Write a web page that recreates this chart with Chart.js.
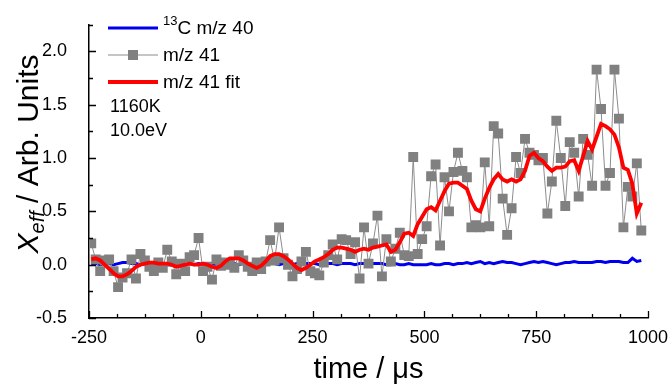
<!DOCTYPE html>
<html>
<head>
<meta charset="utf-8">
<script src="https://cdn.jsdelivr.net/npm/chart.js@4.4.1/dist/chart.umd.min.js"></script>
<style>
  html, body { margin: 0; padding: 0; background: #fff; }
  #wrap { width: 672px; height: 385px; }
</style>
</head>
<body>
<div id="wrap"><canvas id="chart" width="672" height="385"></canvas></div>
<script>
// ── data ──
var times = [
  -245, -235, -225, -215, -205, -195, -185, -175, -165, -155, -145, -135, -125, -115, -105, -95, -85, -75, -65, -55, -45, -35, -25, -15, -5,
  5, 15, 25, 35, 45, 55, 65, 75, 85, 95, 105, 115, 125, 135, 145, 155, 165, 175, 185, 195, 205, 215, 225, 235, 245,
  255, 265, 275, 285, 295, 305, 315, 325, 335, 345, 355, 365, 375, 385, 395, 405, 415, 425, 435, 445, 455, 465, 475, 485, 495,
  505, 515, 525, 535, 545, 555, 565, 575, 585, 595, 605, 615, 625, 635, 645, 655, 665, 675, 685, 695, 705, 715, 725, 735, 745,
  755, 765, 775, 785, 795, 805, 815, 825, 835, 845, 855, 865, 875, 885, 895, 905, 915, 925, 935, 945, 955, 965, 975, 985
];
var m41 = [
  0.20, 0.05, -0.06, 0.04, 0.05, -0.06, -0.21, -0.12, -0.08, 0.05, -0.13, 0.10, 0.04, -0.02, -0.06, 0.02, -0.03, 0.14, 0.03, -0.09, 0.01, -0.06, 0.07, 0.09, 0.25,
  -0.06, -0.02, -0.14, 0.05, -0.01, 0.02, 0.00, -0.03, 0.09, 0.04, -0.02, -0.06, 0.02, -0.04, 0.03, 0.23, 0.04, 0.35, 0.06, 0.00, -0.11, -0.04, 0.03, 0.12, -0.06,
  -0.08, -0.10, 0.02, 0.09, 0.19, 0.05, 0.24, 0.23, 0.10, 0.21, -0.13, 0.35, 0.01, 0.20, 0.46, -0.11, 0.24, 0.03, 0.15, 0.30, 0.09, 0.08, 1.01, 0.10, 0.24,
  0.36, 0.83, 0.94, 0.18, 0.82, 0.50, 0.87, 1.05, 0.88, 0.82, 0.35, 0.37, 0.35, 0.96, 0.36, 1.30, 1.23, 0.62, 0.28, 0.53, 1.01, 0.86, 1.18, 1.05, 1.03,
  0.98, 1.00, 0.48, 0.78, 1.35, 1.00, 0.55, 1.15, 1.05, 0.64, 1.18, 1.03, 0.74, 1.83, 1.46, 0.74, 0.86, 1.83, 1.37, 0.35, 0.73, 0.64, 0.95, 0.32
];
var m41fit = [
  0.05, 0.06, 0.04, 0.00, -0.04, -0.08, -0.11, -0.11, -0.09, -0.06, -0.02, 0.00, 0.01, 0.02, 0.02, 0.01, 0.01, 0.01, 0.00, -0.02, -0.01, 0.00, 0.01, 0.00, 0.00,
  0.01, 0.00, -0.02, -0.03, -0.01, 0.03, 0.06, 0.06, 0.06, 0.04, 0.01, -0.01, -0.03, -0.01, 0.03, 0.08, 0.10, 0.10, 0.08, 0.05, 0.01, -0.03, -0.05, -0.03, 0.00,
  0.03, 0.05, 0.07, 0.10, 0.14, 0.16, 0.16, 0.15, 0.14, 0.12, 0.14, 0.15, 0.14, 0.16, 0.17, 0.18, 0.19, 0.12, 0.14, 0.21, 0.29, 0.30, 0.27, 0.38, 0.45,
  0.52, 0.54, 0.51, 0.60, 0.69, 0.76, 0.77, 0.77, 0.74, 0.71, 0.60, 0.52, 0.50, 0.62, 0.72, 0.80, 0.85, 0.80, 0.78, 0.80, 0.78, 0.80, 0.88, 1.02, 1.05,
  1.00, 0.97, 0.92, 0.88, 0.91, 0.91, 0.92, 0.97, 0.98, 0.88, 1.02, 1.16, 1.08, 1.20, 1.32, 1.30, 1.27, 1.22, 1.10, 0.91, 0.89, 0.76, 0.48, 0.58
];
var c13m40 = [
  0.00, 0.01, 0.00, 0.01, 0.01, 0.00, 0.01, 0.02, 0.02, 0.01, 0.01, 0.00, 0.01, 0.01, 0.00, 0.01, 0.01, 0.00, 0.00, 0.01, 0.01, 0.00, 0.01, 0.00, 0.01,
  0.00, 0.01, 0.01, 0.00, 0.01, 0.00, 0.01, 0.01, 0.00, 0.01, 0.00, 0.00, 0.01, 0.01, 0.00, 0.01, 0.01, 0.00, 0.01, 0.01, 0.00, 0.01, 0.00, 0.01, 0.01,
  0.01, 0.00, 0.01, 0.01, 0.01, 0.00, 0.01, 0.01, 0.01, 0.00, 0.01, 0.01, 0.00, 0.01, 0.01, 0.01, 0.00, 0.00, 0.01, 0.00, 0.00, 0.01, 0.00, 0.00, 0.00,
  0.00, 0.01, 0.00, 0.00, 0.01, 0.01, 0.00, 0.01, 0.01, 0.02, 0.01, 0.02, 0.03, 0.01, 0.02, 0.01, 0.02, 0.03, 0.02, 0.02, 0.01, 0.00, 0.01, 0.02, 0.03,
  0.02, 0.03, 0.02, 0.01, 0.00, 0.01, 0.02, 0.02, 0.03, 0.02, 0.02, 0.02, 0.02, 0.03, 0.03, 0.02, 0.03, 0.03, 0.03, 0.02, 0.02, 0.06, 0.03, 0.04
];
var xTickLabels = [-250, 0, 250, 500, 750, 1000];
var yTickLabels = [-0.5, 0, 0.5, 1, 1.5, 2];
var notes = ['1160K', '10.0eV'];

var FONT = "'Liberation Sans', Arial, sans-serif";

function pts(ys) {
  return times.map(function (t, i) { return { x: t, y: ys[i] }; });
}
function isLabel(list, v) {
  for (var i = 0; i < list.length; i++) if (Math.abs(list[i] - v) < 1e-6) return true;
  return false;
}

// inward tick marks, legend, notes, axis titles
var decor = {
  id: 'decor',
  afterDraw: function (chart) {
    var ctx = chart.ctx, a = chart.chartArea;
    var xs = chart.scales.x, ys = chart.scales.y;
    ctx.save();
    ctx.strokeStyle = '#000';
    ctx.lineWidth = 1.3;
    ctx.beginPath();
    xs.ticks.forEach(function (t) {
      var px = Math.round(xs.getPixelForValue(t.value)) + 0.5;
      var len = isLabel(xTickLabels, t.value) ? 7 : 4;
      ctx.moveTo(px, a.bottom); ctx.lineTo(px, a.bottom - len);
    });
    ys.ticks.forEach(function (t) {
      var py = Math.round(ys.getPixelForValue(t.value)) + 0.5;
      var len = isLabel(yTickLabels, t.value) ? 7 : 4;
      ctx.moveTo(a.left, py); ctx.lineTo(a.left + len, py);
    });
    ctx.stroke();

    // legend
    var lx = a.left + 19, tx = a.left + 74;
    ctx.textBaseline = 'middle';
    ctx.fillStyle = '#000';
    ctx.strokeStyle = '#0000ee'; ctx.lineWidth = 3;
    ctx.beginPath(); ctx.moveTo(lx, 28); ctx.lineTo(lx + 50, 28); ctx.stroke();
    ctx.font = '13px ' + FONT;
    ctx.fillText('13', tx, 21);
    var sw = ctx.measureText('13').width;
    ctx.font = '19px ' + FONT;
    ctx.fillText('C m/z 40', tx + sw, 29);

    ctx.strokeStyle = '#8c8c8c'; ctx.lineWidth = 1;
    ctx.beginPath(); ctx.moveTo(lx, 55); ctx.lineTo(lx + 50, 55); ctx.stroke();
    ctx.fillStyle = '#808080';
    ctx.fillRect(lx + 20, 50, 10, 10);
    ctx.fillStyle = '#000';
    ctx.fillText('m/z 41', tx, 56);

    ctx.strokeStyle = '#ff0000'; ctx.lineWidth = 3.8;
    ctx.beginPath(); ctx.moveTo(lx, 82); ctx.lineTo(lx + 50, 82); ctx.stroke();
    ctx.fillText('m/z 41 fit', tx, 83);

    ctx.font = '18px ' + FONT;
    ctx.fillText(notes[0], a.left + 21, 107);
    ctx.fillText(notes[1], a.left + 21, 131);

    // axis titles
    ctx.textAlign = 'center';
    ctx.font = '29px ' + FONT;
    ctx.fillText('time / \u03bcs', (a.left + a.right) / 2, 370);

    ctx.translate(30, 154);
    ctx.rotate(-Math.PI / 2);
    var p1 = 'X', p2 = 'eff', p3 = ' / Arb. Units';
    ctx.font = 'italic 30px ' + FONT;
    var w1 = ctx.measureText(p1).width;
    ctx.font = 'italic 20px ' + FONT;
    var w2 = ctx.measureText(p2).width;
    ctx.font = '30px ' + FONT;
    var w3 = ctx.measureText(p3).width;
    var x0 = -(w1 + w2 + w3) / 2;
    ctx.textAlign = 'left';
    ctx.font = 'italic 30px ' + FONT;
    ctx.fillText(p1, x0, 0);
    ctx.font = 'italic 20px ' + FONT;
    ctx.fillText(p2, x0 + w1, 8);
    ctx.font = '30px ' + FONT;
    ctx.fillText(p3, x0 + w1 + w2, 0);
    ctx.restore();
  }
};

new Chart(document.getElementById('chart'), {
  type: 'line',
  data: {
    datasets: [
      { label: 'm/z 41 fit', data: pts(m41fit), borderColor: '#ff0000', borderWidth: 3.8,
        pointRadius: 0, tension: 0, fill: false },
      { label: 'm/z 41', data: pts(m41), borderColor: '#8c8c8c', borderWidth: 1,
        pointStyle: 'rect', pointRadius: 7, pointBackgroundColor: '#808080',
        pointBorderWidth: 0, tension: 0, fill: false },
      { label: '13C m/z 40', data: pts(c13m40), borderColor: '#0000ee', borderWidth: 3,
        pointRadius: 0, tension: 0, fill: false },
    ],
  },
  options: {
    responsive: false, animation: false, devicePixelRatio: 1,
    layout: { padding: { left: 0, top: 14, right: 24, bottom: 0 } },
    plugins: { legend: { display: false }, tooltip: { enabled: false } },
    scales: {
      x: {
        type: 'linear', min: -250, max: 1000,
        grid: { display: false },
        border: { display: true, color: '#000', width: 1.5 },
        ticks: {
          stepSize: 62.5, autoSkip: false, maxRotation: 0, padding: 1,
          color: '#000', font: { size: 18, family: FONT },
          callback: function (v) { return isLabel(xTickLabels, v) ? String(v) : ''; },
        },
        afterFit: function (s) { s.height = 67; },
      },
      y: {
        min: -0.5, max: 2.25,
        grid: { display: false },
        border: { display: true, color: '#000', width: 1.5 },
        ticks: {
          stepSize: 0.25, autoSkip: false, padding: 14,
          color: '#000', font: { size: 18, family: FONT },
          callback: function (v) { return isLabel(yTickLabels, v) ? v.toFixed(1) : ''; },
        },
        afterFit: function (s) { s.width = 89; },
      },
    },
  },
  plugins: [decor],
});
</script>
</body>
</html>
